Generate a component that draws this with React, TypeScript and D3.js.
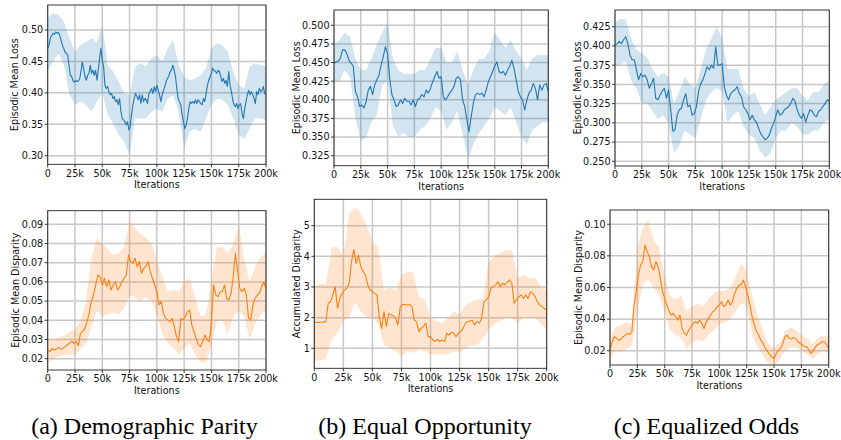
import React from "react";
import * as d3 from "d3";

// Shared x axis: training iterations
const X_MAX = 200000;
const xTickValues = [0, 25000, 50000, 75000, 100000, 125000, 150000, 175000, 200000];
const xTickLabel = (v: number) => (v === 0 ? "0" : `${v / 1000}k`);

// Mean curves are evenly spaced over 0..200k; bands (spread across runs) every 5k.

// (a) Demographic Parity - loss
const dpLossMean = [
  0.471, 0.476, 0.487, 0.491, 0.495, 0.493, 0.497, 0.495, 0.496, 0.492,
  0.484, 0.476, 0.471, 0.465, 0.463, 0.46, 0.444, 0.428, 0.426, 0.419,
  0.417, 0.42, 0.418, 0.419, 0.422, 0.434, 0.449, 0.439, 0.426, 0.42,
  0.428, 0.431, 0.444, 0.431, 0.436, 0.428, 0.436, 0.42, 0.436, 0.455,
  0.471, 0.452, 0.442, 0.412, 0.407, 0.41, 0.402, 0.397, 0.399, 0.391,
  0.394, 0.386, 0.389, 0.381, 0.391, 0.37, 0.359, 0.357, 0.354, 0.349,
  0.354, 0.341, 0.346, 0.365, 0.381, 0.391, 0.399, 0.394, 0.389, 0.397,
  0.383, 0.397, 0.386, 0.391, 0.389, 0.383, 0.399, 0.402, 0.407, 0.399,
  0.41, 0.402, 0.412, 0.404, 0.397, 0.386, 0.397, 0.404, 0.41, 0.418,
  0.423, 0.426, 0.434, 0.436, 0.444, 0.436, 0.426, 0.407, 0.391, 0.386,
  0.381, 0.365, 0.354, 0.343, 0.349, 0.359, 0.375, 0.386, 0.383, 0.386,
  0.383, 0.389, 0.383, 0.389, 0.386, 0.383, 0.381, 0.391, 0.386, 0.399,
  0.412, 0.42, 0.426, 0.431, 0.439, 0.436, 0.434, 0.431, 0.436, 0.434,
  0.426, 0.418, 0.423, 0.415, 0.42, 0.41, 0.434, 0.412, 0.402, 0.389,
  0.381, 0.378, 0.383, 0.375, 0.381, 0.383, 0.367, 0.359, 0.375, 0.386,
  0.397, 0.404, 0.397, 0.402, 0.397, 0.391, 0.383, 0.402, 0.397, 0.407,
  0.402, 0.404, 0.41, 0.399, 0.397,
];
const dpLossHi = [
  0.519, 0.527, 0.524, 0.513, 0.487, 0.465, 0.476, 0.481, 0.487, 0.481,
  0.508, 0.444, 0.434, 0.418, 0.399, 0.397, 0.442, 0.447, 0.442, 0.455,
  0.46, 0.45, 0.471, 0.484, 0.444, 0.426, 0.42, 0.423, 0.428, 0.439,
  0.471, 0.479, 0.476, 0.465, 0.434, 0.412, 0.407, 0.442, 0.447, 0.444,
  0.442,
];
const dpLossLo = [
  0.436, 0.45, 0.463, 0.444, 0.397, 0.381, 0.386, 0.381, 0.37, 0.386, 0.4,
  0.365, 0.351, 0.333, 0.322, 0.301, 0.359, 0.359, 0.359, 0.37, 0.375,
  0.37, 0.391, 0.396, 0.37, 0.312, 0.338, 0.343, 0.338, 0.359, 0.381,
  0.391, 0.389, 0.381, 0.359, 0.333, 0.327, 0.343, 0.359, 0.359, 0.357,
];

// (b) Equal Opportunity - loss
const eoLossMean = [
  0.449, 0.451, 0.452, 0.456, 0.467, 0.467, 0.462, 0.453, 0.449, 0.445,
  0.411, 0.404, 0.391, 0.393, 0.389, 0.398, 0.413, 0.418, 0.407, 0.42,
  0.427, 0.433, 0.447, 0.458, 0.471, 0.462, 0.429, 0.407, 0.4, 0.391,
  0.393, 0.4, 0.395, 0.402, 0.398, 0.398, 0.393, 0.4, 0.391, 0.4,
  0.402, 0.407, 0.404, 0.413, 0.409, 0.415, 0.424, 0.431, 0.438, 0.429,
  0.431, 0.404, 0.4, 0.404, 0.409, 0.413, 0.418, 0.429, 0.431, 0.427,
  0.4, 0.391, 0.373, 0.357, 0.377, 0.395, 0.407, 0.409, 0.407, 0.409,
  0.404, 0.413, 0.424, 0.431, 0.438, 0.445, 0.451, 0.438, 0.436, 0.438,
  0.433, 0.44, 0.445, 0.453, 0.442, 0.427, 0.411, 0.404, 0.4, 0.386,
  0.4, 0.409, 0.413, 0.422, 0.415, 0.4, 0.42, 0.413, 0.42, 0.422,
  0.411,
];
const eoLossHi = [
  0.475, 0.48, 0.49, 0.485, 0.455, 0.44, 0.44, 0.455, 0.475, 0.49, 0.505,
  0.455, 0.44, 0.435, 0.435, 0.435, 0.44, 0.44, 0.455, 0.47, 0.47, 0.45,
  0.45, 0.465, 0.44, 0.42, 0.44, 0.455, 0.455, 0.465, 0.49, 0.48, 0.47,
  0.48, 0.465, 0.455, 0.44, 0.455, 0.46, 0.46, 0.46,
];
const eoLossLo = [
  0.425, 0.425, 0.44, 0.43, 0.375, 0.345, 0.35, 0.37, 0.38, 0.42, 0.425,
  0.365, 0.35, 0.355, 0.35, 0.35, 0.36, 0.365, 0.375, 0.39, 0.385, 0.36,
  0.37, 0.385, 0.355, 0.32, 0.34, 0.355, 0.365, 0.375, 0.39, 0.385, 0.38,
  0.39, 0.37, 0.35, 0.34, 0.36, 0.365, 0.37, 0.37,
];

// (c) Equalized Odds - loss
const eoddsLossMean = [
  0.401, 0.403, 0.406, 0.403, 0.408, 0.412, 0.403, 0.388, 0.382, 0.382,
  0.369, 0.356, 0.364, 0.36, 0.362, 0.356, 0.345, 0.351, 0.358, 0.332,
  0.33, 0.336, 0.341, 0.345, 0.332, 0.343, 0.317, 0.289, 0.291, 0.31,
  0.317, 0.319, 0.33, 0.338, 0.321, 0.323, 0.31, 0.312, 0.321, 0.341,
  0.351, 0.356, 0.364, 0.373, 0.369, 0.375, 0.371, 0.399, 0.375, 0.375,
  0.377, 0.347, 0.336, 0.33, 0.338, 0.341, 0.343, 0.347, 0.338, 0.334,
  0.321, 0.317, 0.312, 0.304, 0.31, 0.304, 0.301, 0.293, 0.286, 0.282,
  0.278, 0.28, 0.284, 0.293, 0.299, 0.308, 0.317, 0.31, 0.312, 0.317,
  0.319, 0.321, 0.325, 0.332, 0.328, 0.317, 0.31, 0.306, 0.312, 0.301,
  0.31, 0.317, 0.315, 0.31, 0.308, 0.315, 0.317, 0.321, 0.325, 0.33,
  0.328,
];
const eoddsLossHi = [
  0.43, 0.435, 0.435, 0.41, 0.395, 0.39, 0.385, 0.37, 0.36, 0.365, 0.36,
  0.325, 0.34, 0.36, 0.35, 0.345, 0.37, 0.395, 0.41, 0.425, 0.41, 0.37,
  0.37, 0.37, 0.345, 0.335, 0.34, 0.325, 0.31, 0.32, 0.33, 0.335, 0.34,
  0.345, 0.345, 0.335, 0.33, 0.34, 0.34, 0.35, 0.355,
];
const eoddsLossLo = [
  0.375, 0.375, 0.38, 0.355, 0.345, 0.325, 0.325, 0.315, 0.305, 0.31, 0.3,
  0.26, 0.27, 0.29, 0.285, 0.28, 0.305, 0.33, 0.34, 0.345, 0.34, 0.3, 0.31,
  0.315, 0.295, 0.285, 0.28, 0.265, 0.255, 0.26, 0.28, 0.29, 0.29, 0.3,
  0.295, 0.285, 0.285, 0.29, 0.29, 0.3, 0.305,
];

// (a) Demographic Parity - disparity
const dpDispMean = [
  0.0245, 0.0237, 0.0254, 0.0245, 0.025, 0.0258, 0.025, 0.0254, 0.0263, 0.0272,
  0.028, 0.0292, 0.028, 0.0289, 0.0268, 0.0332, 0.0341, 0.0358, 0.0393, 0.0436,
  0.0497, 0.0532, 0.0584, 0.0636, 0.0627, 0.0584, 0.0619, 0.0575, 0.061, 0.0558,
  0.0584, 0.0601, 0.0558, 0.0575, 0.0601, 0.0619, 0.0636, 0.074, 0.0706, 0.0697,
  0.0723, 0.068, 0.0706, 0.0645, 0.0671, 0.068, 0.0706, 0.0653, 0.0619, 0.0584,
  0.0549, 0.048, 0.0497, 0.0436, 0.041, 0.0402, 0.0393, 0.041, 0.0367, 0.0315,
  0.0289, 0.041, 0.0402, 0.0419, 0.0445, 0.0454, 0.0376, 0.0341, 0.0306, 0.0272,
  0.0263, 0.0289, 0.0324, 0.0297, 0.0289, 0.0393, 0.0584, 0.0532, 0.0523, 0.0549,
  0.0549, 0.0584, 0.0515, 0.0506, 0.0541, 0.0627, 0.0749, 0.0653, 0.0567, 0.0549,
  0.0567, 0.0532, 0.041, 0.0402, 0.048, 0.0515, 0.0532, 0.0541, 0.0575, 0.0601,
  0.0567,
];
const dpDispHi = [
  0.031, 0.03, 0.031, 0.032, 0.034, 0.035, 0.04, 0.05, 0.072, 0.083, 0.08,
  0.077, 0.074, 0.075, 0.078, 0.092, 0.088, 0.085, 0.083, 0.08, 0.072,
  0.063, 0.055, 0.056, 0.055, 0.06, 0.062, 0.052, 0.042, 0.043, 0.06,
  0.078, 0.078, 0.075, 0.08, 0.09, 0.072, 0.06, 0.068, 0.073, 0.075,
];
const dpDispLo = [
  0.018, 0.02, 0.021, 0.022, 0.022, 0.022, 0.025, 0.028, 0.036, 0.045,
  0.042, 0.043, 0.044, 0.043, 0.046, 0.053, 0.052, 0.05, 0.052, 0.05, 0.043,
  0.033, 0.028, 0.026, 0.022, 0.025, 0.028, 0.022, 0.018, 0.018, 0.027,
  0.04, 0.04, 0.033, 0.042, 0.045, 0.042, 0.03, 0.038, 0.043, 0.045,
];

// (b) Equal Opportunity - accumulated disparity
const eoAccMean = [
  1.87, 1.84, 1.84, 1.85, 1.85, 1.89, 2.47, 2.52, 2.74, 3.01,
  2.3, 2.63, 2.79, 2.9, 2.96, 3.12, 3.83, 4.21, 3.77, 4.04,
  3.66, 3.5, 3.39, 3.07, 2.9, 2.85, 2.79, 2.74, 1.98, 1.65,
  2.2, 1.71, 2.14, 2.09, 2.07, 1.98, 1.76, 2.36, 2.43, 2.43,
  2.41, 2.43, 2.36, 1.92, 1.87, 1.54, 1.65, 1.71, 1.82, 1.38,
  1.38, 1.27, 1.22, 1.3, 1.22, 1.27, 1.22, 1.49, 1.43, 1.52,
  1.49, 1.38, 1.49, 1.54, 1.65, 1.82, 1.87, 1.89, 1.92, 1.76,
  1.87, 1.82, 1.98, 2.52, 2.58, 2.68, 2.96, 3.01, 3.07, 3.17,
  3.01, 3.12, 3.07, 3.15, 3.23, 3.12, 2.47, 2.58, 2.68, 2.74,
  2.63, 2.74, 2.63, 2.85, 2.79, 2.68, 2.52, 2.41, 2.36, 2.3,
  2.25,
];
const eoAccHi = [
  3.05, 3.1, 3.1, 4.3, 4.3, 4.0, 5.4, 5.6, 5.4, 5.0, 4.5, 4.3, 2.9, 3.0,
  2.9, 3.4, 3.5, 3.5, 2.7, 2.6, 2.0, 1.9, 1.8, 2.0, 2.2, 2.1, 2.4, 2.5, 2.6,
  2.6, 3.8, 4.0, 4.1, 4.2, 4.2, 3.3, 3.4, 3.3, 3.3, 3.0, 2.9,
];
const eoAccLo = [
  0.6, 0.6, 0.65, 1.3, 1.5, 1.9, 2.0, 2.5, 2.2, 2.0, 2.0, 1.8, 1.1, 1.0,
  0.9, 0.75, 0.9, 0.85, 0.95, 0.9, 0.8, 0.8, 0.8, 0.8, 0.9, 0.85, 1.0, 1.1,
  1.1, 1.3, 1.6, 1.8, 1.9, 2.0, 2.0, 1.8, 2.0, 2.0, 2.0, 1.8, 1.6,
];

// (c) Equalized Odds - disparity
const eoddsDispMean = [
  0.0204, 0.0257, 0.0289, 0.0278, 0.0267, 0.0274, 0.0289, 0.0299, 0.031, 0.0303,
  0.032, 0.0489, 0.0574, 0.0679, 0.0742, 0.0764, 0.0869, 0.0827, 0.0795, 0.0732,
  0.0711, 0.0764, 0.0732, 0.0658, 0.0574, 0.0531, 0.0489, 0.0447, 0.0426, 0.0436,
  0.0415, 0.0394, 0.0426, 0.0341, 0.031, 0.0299, 0.0331, 0.0352, 0.0373, 0.0384,
  0.0373, 0.0394, 0.0373, 0.0341, 0.0384, 0.0405, 0.0426, 0.0447, 0.0457, 0.0479,
  0.0489, 0.051, 0.0479, 0.0489, 0.0521, 0.0489, 0.051, 0.0563, 0.0595, 0.0616,
  0.0616, 0.0647, 0.0605, 0.0552, 0.0489, 0.0415, 0.0362, 0.032, 0.0299, 0.0267,
  0.0246, 0.0215, 0.0194, 0.0177, 0.0162, 0.0151, 0.0183, 0.0204, 0.0215, 0.0246,
  0.0289, 0.0299, 0.0278, 0.0274, 0.0282, 0.0278, 0.0257, 0.0246, 0.0236, 0.0225,
  0.0225, 0.0204, 0.0183, 0.0204, 0.0225, 0.024, 0.0246, 0.0257, 0.0257, 0.024,
  0.0215,
];
const eoddsDispHi = [
  0.028, 0.035, 0.036, 0.038, 0.037, 0.085, 0.098, 0.103, 0.09, 0.085,
  0.067, 0.055, 0.052, 0.055, 0.045, 0.048, 0.05, 0.048, 0.053, 0.057,
  0.058, 0.058, 0.06, 0.067, 0.075, 0.07, 0.055, 0.042, 0.033, 0.024, 0.022,
  0.025, 0.032, 0.035, 0.033, 0.03, 0.028, 0.024, 0.028, 0.03, 0.029,
];
const eoddsDispLo = [
  0.015, 0.02, 0.019, 0.021, 0.023, 0.045, 0.062, 0.065, 0.06, 0.055,
  0.045, 0.033, 0.03, 0.028, 0.021, 0.025, 0.027, 0.026, 0.03, 0.033, 0.037,
  0.038, 0.04, 0.045, 0.05, 0.048, 0.03, 0.022, 0.017, 0.012, 0.011, 0.014,
  0.02, 0.022, 0.022, 0.02, 0.018, 0.015, 0.018, 0.02, 0.018,
];

const captions = ["(a) Demographic Parity", "(b) Equal Opportunity", "(c) Equalized Odds"];

const BLUE = "#1f77b4";
const ORANGE = "#ff7f0e";
const SANS = "DejaVu Sans";
const SERIF = "Liberation Serif";

type PanelSpec = {
  key: string;
  box: [number, number, number, number]; // left, top, right, bottom
  yDomain: [number, number];
  yTicks: number[];
  yFormat: (v: number) => string;
  yLabel: string;
  yLabelOffset: number;
  mean: number[];
  lo: number[];
  hi: number[];
  color: string;
};

const f2 = d3.format(".2f");
const f3 = d3.format(".3f");
const f0 = d3.format("d");

const panels: PanelSpec[] = [
  {
    key: "dpLoss",
    box: [47.7, 5, 266, 164.3],
    yDomain: [0.2863, 0.5398],
    yTicks: [0.3, 0.35, 0.4, 0.45, 0.5],
    yFormat: f2,
    yLabel: "Episodic Mean Loss",
    yLabelOffset: 29.5,
    mean: dpLossMean,
    lo: dpLossLo,
    hi: dpLossHi,
    color: BLUE,
  },
  {
    key: "eoLoss",
    box: [334, 10, 548.3, 165.7],
    yDomain: [0.3116, 0.5205],
    yTicks: [0.325, 0.35, 0.375, 0.4, 0.425, 0.45, 0.475, 0.5],
    yFormat: f3,
    yLabel: "Episodic Mean Loss",
    yLabelOffset: 34,
    mean: eoLossMean,
    lo: eoLossLo,
    hi: eoLossHi,
    color: BLUE,
  },
  {
    key: "eoddsLoss",
    box: [615, 10, 829.3, 166],
    yDomain: [0.2439, 0.4467],
    yTicks: [0.25, 0.275, 0.3, 0.325, 0.35, 0.375, 0.4, 0.425],
    yFormat: f3,
    yLabel: "Episodic Mean Loss",
    yLabelOffset: 34.3,
    mean: eoddsLossMean,
    lo: eoddsLossLo,
    hi: eoddsLossHi,
    color: BLUE,
  },
  {
    key: "dpDisp",
    box: [47.7, 210.7, 266, 370],
    yDomain: [0.0141, 0.0971],
    yTicks: [0.02, 0.03, 0.04, 0.05, 0.06, 0.07, 0.08, 0.09],
    yFormat: f2,
    yLabel: "Episodic Mean Disparity",
    yLabelOffset: 28.4,
    mean: dpDispMean,
    lo: dpDispLo,
    hi: dpDispHi,
    color: ORANGE,
  },
  {
    key: "eoAcc",
    box: [314.3, 199.3, 546.7, 368.3],
    yDomain: [0.347, 5.86],
    yTicks: [1, 2, 3, 4, 5],
    yFormat: f0,
    yLabel: "Accumulated Disparity",
    yLabelOffset: 14,
    mean: eoAccMean,
    lo: eoAccLo,
    hi: eoAccHi,
    color: ORANGE,
  },
  {
    key: "eoddsDisp",
    box: [610, 210, 828.7, 365],
    yDomain: [0.011, 0.109],
    yTicks: [0.02, 0.04, 0.06, 0.08, 0.1],
    yFormat: f2,
    yLabel: "Episodic Mean Disparity",
    yLabelOffset: 28.3,
    mean: eoddsDispMean,
    lo: eoddsDispLo,
    hi: eoddsDispHi,
    color: ORANGE,
  },
];

function Panel({ spec }: { spec: PanelSpec }) {
  const [left, top, right, bottom] = spec.box;
  const x = d3.scaleLinear().domain([0, X_MAX]).range([left, right]);
  const y = d3.scaleLinear().domain(spec.yDomain).range([bottom, top]);
  const meanStep = X_MAX / (spec.mean.length - 1);
  const bandStep = X_MAX / (spec.lo.length - 1);

  const band = d3
    .area<number>()
    .x((_, i) => x(i * bandStep))
    .y0((d) => y(d))
    .y1((_, i) => y(spec.hi[i]));
  const line = d3
    .line<number>()
    .x((_, i) => x(i * meanStep))
    .y((d) => y(d));

  const clipId = `clip-${spec.key}`;
  const fs = 9.6;

  return (
    <g>
      <defs>
        <clipPath id={clipId}>
          <rect x={left} y={top} width={right - left} height={bottom - top} />
        </clipPath>
      </defs>
      <g stroke="#c8c8c8" strokeWidth={1.5}>
        {xTickValues.map((v) => (
          <line key={`gx${v}`} x1={x(v)} x2={x(v)} y1={top} y2={bottom} />
        ))}
        {spec.yTicks.map((v) => (
          <line key={`gy${v}`} x1={left} x2={right} y1={y(v)} y2={y(v)} />
        ))}
      </g>
      <g clipPath={`url(#${clipId})`}>
        <path d={band(spec.lo) ?? ""} fill={spec.color} fillOpacity={0.2} stroke="none" />
        <path
          d={line(spec.mean) ?? ""}
          fill="none"
          stroke={spec.color}
          strokeWidth={1.1}
          strokeLinejoin="round"
        />
      </g>
      <rect
        x={left}
        y={top}
        width={right - left}
        height={bottom - top}
        fill="none"
        stroke="#222"
        strokeWidth={0.9}
      />
      <g fontFamily={SANS} fontSize={fs} fill="#111" textAnchor="middle">
        {xTickValues.map((v) => (
          <g key={`xt${v}`}>
            <line x1={x(v)} x2={x(v)} y1={bottom} y2={bottom + 3} stroke="#222" strokeWidth={0.9} />
            <text x={x(v)} y={bottom + 12.2}>
              {xTickLabel(v)}
            </text>
          </g>
        ))}
        <text x={(left + right) / 2} y={bottom + 24}>
          Iterations
        </text>
      </g>
      <g fontFamily={SANS} fontSize={fs} fill="#111">
        {spec.yTicks.map((v) => (
          <g key={`yt${v}`}>
            <line x1={left - 3} x2={left} y1={y(v)} y2={y(v)} stroke="#222" strokeWidth={0.9} />
            <text x={left - 4.5} y={y(v)} dy="0.35em" textAnchor="end">
              {spec.yFormat(v)}
            </text>
          </g>
        ))}
        <text
          transform={`translate(${left - spec.yLabelOffset},${(top + bottom) / 2}) rotate(-90)`}
          textAnchor="middle"
        >
          {spec.yLabel}
        </text>
      </g>
    </g>
  );
}

const captionX = [144.5, 425, 706.5];

export default function App() {
  return (
    <svg
      width={841}
      height={440}
      style={{ position: "absolute", left: 0, top: 0, background: "#fff" }}
    >
      <rect width={841} height={440} fill="#fff" />
      {panels.map((p) => (
        <Panel key={p.key} spec={p} />
      ))}
      {captions.map((c, i) => (
        <text
          key={c}
          x={captionX[i]}
          y={434}
          fontFamily={SERIF}
          fontSize={24}
          fill="#000"
          textAnchor="middle"
        >
          {c}
        </text>
      ))}
    </svg>
  );
}
